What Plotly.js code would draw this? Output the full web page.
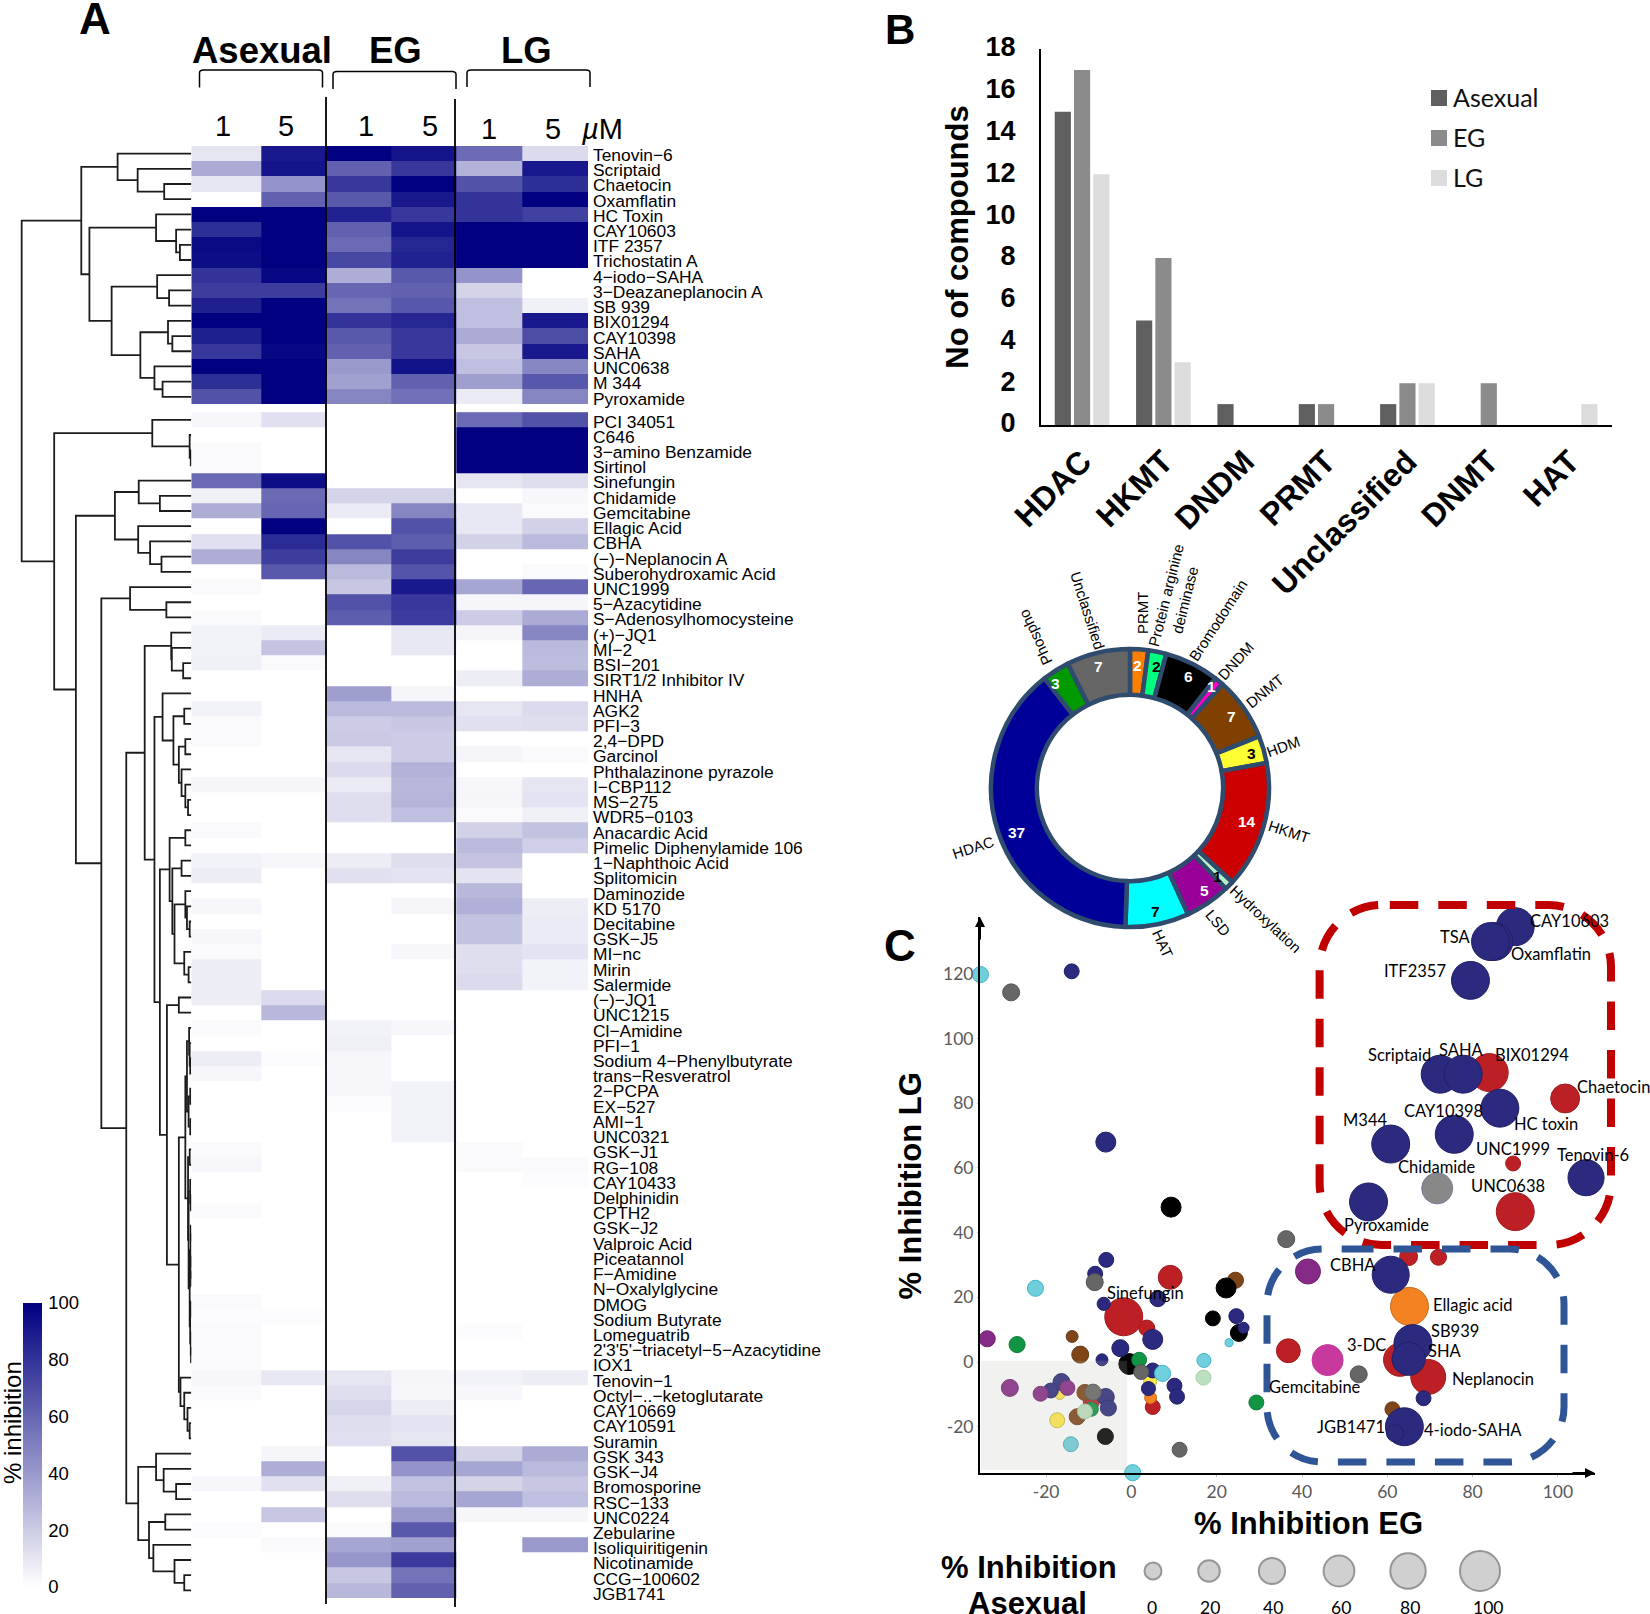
<!DOCTYPE html>
<html><head><meta charset="utf-8"><title>Epigenetic inhibitors</title>
<script src="https://cdn.plot.ly/plotly-3.0.1.min.js"></script>
<style>html,body{margin:0;padding:0;background:#fff}#c{width:1650px;height:1614px}</style></head>
<body><div id="c"></div>
<script>
// ---------- A: heatmap data ----------
const compounds = ['Tenovin−6','Scriptaid','Chaetocin','Oxamflatin','HC Toxin','CAY10603','ITF 2357','Trichostatin A','4−iodo−SAHA','3−Deazaneplanocin A','SB 939','BIX01294','CAY10398','SAHA','UNC0638','M 344','Pyroxamide',
'PCI 34051','C646','3−amino Benzamide','Sirtinol','Sinefungin','Chidamide','Gemcitabine','Ellagic Acid','CBHA','(−)−Neplanocin A','Suberohydroxamic Acid','UNC1999','5−Azacytidine','S−Adenosylhomocysteine','(+)−JQ1','MI−2','BSI−201','SIRT1/2 Inhibitor IV','HNHA','AGK2','PFI−3','2,4−DPD','Garcinol','Phthalazinone pyrazole','I−CBP112','MS−275','WDR5−0103','Anacardic Acid','Pimelic Diphenylamide 106','1−Naphthoic Acid','Splitomicin','Daminozide','KD 5170','Decitabine','GSK−J5','MI−nc','Mirin','Salermide','(−)−JQ1','UNC1215','Cl−Amidine','PFI−1','Sodium 4−Phenylbutyrate','trans−Resveratrol','2−PCPA','EX−527','AMI−1','UNC0321','GSK−J1','RG−108','CAY10433','Delphinidin','CPTH2','GSK−J2','Valproic Acid','Piceatannol','F−Amidine','N−Oxalylglycine','DMOG','Sodium Butyrate','Lomeguatrib',"2'3'5'−triacetyl−5−Azacytidine",'IOX1','Tenovin−1','Octyl−..−ketoglutarate','CAY10669','CAY10591','Suramin','GSK 343','GSK−J4','Bromosporine','RSC−133','UNC0224','Zebularine','Isoliquiritigenin','Nicotinamide','CCG−100602','JGB1741'];
// columns: Asexual 1, Asexual 5, EG 1, EG 5, LG 1, LG 5 (uM)
const inhibition = [
[10,90,100,92,58,14],[33,92,62,78,30,90],[10,42,78,100,68,82],[0,62,65,90,80,100],[100,100,87,78,80,75],[82,100,62,92,100,100],[96,100,58,85,100,100],[95,100,72,87,100,100],[80,97,32,65,42,0],[76,76,60,62,17,0],[88,100,55,66,25,6],[100,100,80,85,25,90],[88,100,65,78,33,70],[78,97,62,78,22,90],[100,100,40,93,25,47],[82,100,37,62,38,66],[68,100,48,56,8,48],
[3,12,0,0,58,68],[0,0,0,0,100,100],[2,0,0,0,100,100],[2,0,0,0,100,100],[58,95,0,0,10,13],[6,58,17,17,0,3],[32,60,8,48,9,2],[0,100,0,68,9,18],[12,83,68,63,18,27],[32,76,48,76,0,0],[0,65,27,67,0,2],[2,0,22,90,35,60],[0,0,68,78,4,4],[2,0,63,77,20,33],[5,8,0,9,4,47],[5,23,0,9,0,27],[6,2,0,0,0,26],[0,0,0,0,7,32],[0,0,38,4,0,0],[5,0,27,27,10,14],[2,0,20,22,12,13],[2,0,21,20,0,0],[0,0,10,20,4,2],[0,0,14,30,0,0],[4,4,8,28,3,10],[0,0,13,29,4,11],[0,0,13,25,2,6],[2,0,0,0,18,24],[0,0,0,0,27,19],[5,3,7,13,23,0],[7,0,12,11,11,0],[0,0,0,0,28,0],[3,0,0,4,31,7],[0,0,0,0,24,8],[3,0,0,0,24,8],[2,0,0,3,13,11],[7,0,0,0,13,5],[7,0,0,0,14,5],[7,14,0,0,0,0],[0,28,0,0,0,0],[2,0,5,3,0,0],[0,0,6,0,0,0],[7,1,3,0,0,0],[3,0,3,0,0,0],[0,0,3,5,0,0],[0,0,1,5,0,0],[0,0,0,5,0,0],[0,0,0,5,0,0],[2,0,0,0,2,0],[3,0,0,0,2,2],[0,0,0,0,0,1],[0,0,0,0,0,0],[1.5,0,0,0,0,0],[0,0,0,0,0,0],[0,0,0,0,0,0],[0,0,0,0,0,0],[0,0,0,0,0,0],[0,0,0,0,0,0],[2,0,0,0,0,0],[1,1,0,0,0,0],[2,0,0,0,1,0],[2,0,0,0,0,0],[2,0,0,0,0,0],[3,9,10,4,5,7],[2,0,13,3,3,0],[0,0,16,7,0,0],[0,0,13,11,0,0],[0,0,12,10,0,0],[0,4,0,68,17,33],[0,32,0,42,35,27],[3,12,6,24,17,22],[0,0,13,27,35,25],[0,22,0,40,4,4],[1,0,2,65,0,0],[0,2,35,37,0,40],[0,0,41,77,0,0],[0,0,22,55,0,0],[0,0,28,62,0,0]];
const topClusterSize = 17;
// dendrogram: [merge height, left, right]; plain numbers are 1-based row numbers
const blob = [11,[8,[4,58,[3,59,[2,60,61]]],[5,[2,62,63],[2,64,65]]],[6,[3,66,67],[5,[2,68,[1,69,70]],[3,[1,[1,71,72],[0.5,73,[0.5,74,75]]],[2,[1,76,77],[1,78,[0.5,79,80]]]]]]];
const dendro = [313,
 [203,[136,1,[99,2,[50,3,4]]],[188,[65,5,[28,6,[21,7,8]]],[147,[63,9,[41,10,11]],[94,[43,12,[35,13,14]],[68,15,[53,16,17]]]]]],
 [253,[72,18,[3,19,[1,20,21]]],
  [213,[141,[97,22,[58,23,24]],[98,25,[76,26,[55,27,28]]]],
   [166,[113,29,[46,30,31]],
    [120,
     [86,[37,32,[36,33,[15,34,35]]],
      [68,[53,36,[33,[13,37,38],[23,[11,39,40],[18,41,[11,42,[6,43,44]]]]]],
       [58,[40,[11,45,46],[35,[18,47,48],[31,[11,49,[8,50,[3,51,52]]],[13,53,[5,54,55]]]]],
        [45,[23,56,57],[23,blob,[20,81,[13,82,[7,83,[3,84,85]]]]]]]]],
     [98,[65,86,[51,87,[28,88,89]]],[78,[48,90,91],[70,92,[31,93,[13,94,95]]]]]]]]]];
// ---------- B: bars ----------
const classes = ['HDAC','HKMT','DNDM','PRMT','Unclassified','DNMT','HAT'];
const barAsexual = [15,5,1,1,1,0,0];
const barEG = [17,8,0,1,2,2,0];
const barLG = [12,3,0,0,2,0,1];
// ---------- donut ----------
const ringLabels = ['PRMT','Protein arginine deiminase','Bromodomain','DNDM','DNMT','HDM','HKMT','Hydroxylation','LSD','HAT','HDAC','Phospho','Unclassified'];
const ringValues = [2,2,6,1,7,3,14,1,5,7,37,3,7];
const ringColors = ['#ff7f00','#00ff7f','#000000','#ff00cc','#804000','#ffff33','#cc0000','#b3f0cc','#990099','#00ffff','#000099','#009900','#666666'];
const ringText = ['#fff','#000','#fff','#fff','#fff','#000','#fff','#000','#fff','#000','#fff','#fff','#fff'];
const ringCountX = [1137.3,1156,1188.3,1211.7,1231.7,1251.3,1246.7,1217.7,1204,1155.7,1016.7,1055.7,1098.7];
const ringCountY = [665,666.7,676,686.7,716.7,753.3,821.7,876.7,890,911.7,832.7,683,666.7];
// ---------- C: scatter, one triple of arrays per class ----------
const hdacEG=[90,85,84.2,79.5,72.4,77.8,86.4,75.7,60.8,55.6,106.6,60.8,66,65,64,68.5,61.8,-14,-6,-5.9,-8.5,-6.5,6.2,24.6,26.3,5,-2.6,-6.9,5,4,10.1,10.7,-16.4,-18.9,-6,-5.4];
const hdacLG=[134.6,130,130,118,89,89,78.5,70.4,67.4,49.5,57,27,5.7,1,-20,-11.2,-22,120.8,68,31.6,27.3,18,19.6,14.2,10.6,7,4.3,0.7,-2.6,-8.2,-7.3,-10.7,-6.2,-8.8,-10.8,-14.2];
const hdacAs=[91,91,91,91,91,91,91,91,91,91,83,87,91,70,91,-9,0,-9,13,-9,-9,-17,-4,-9,-26,13,0,-22,-9,-13,-9,-9,0,-9,0,-4];
const hkmtEG=[83.9,101.7,89.5,90,65,72,9.1,-1.8,3.6,36.8,63,69.6,5,-9.4];
const hkmtLG=[89.5,81.5,61.4,46.5,32.6,32.4,26.2,14,10.5,3.5,0.7,-4.6,-13.9,-12.4];
const hkmtAs=[91,52,-9,91,4,-4,30,91,-4,30,70,78,-9,-4];
const blackEG=[9.3,22.2,19.1,25.2,-0.5,-6.1], blackLG=[47.9,22.9,13.5,9,-0.6,-23], blackAs=[13,13,-9,0,17,-4];
const brownEG=[24.4,-13.9,-12,61.2,-12.7,-10.9], brownLG=[25.3,7.9,2.3,-14.6,-16.9,-9.4], brownAs=[-4,-22,0,-9,-4,-4];
const orangeEG=[65.2,4.5], orangeLG=[17.2,-11], orangeAs=[91,-22];
const yellowEG=[4.4,-17.4,-16.8], yellowLG=[-6,-18,-10], yellowAs=[-17,-9,-30];
const purpleEG=[41.4,-33.8,-28.5,-21.3,-15], purpleLG=[28,7.2,-8,-9.8,-8], purpleAs=[35,-4,0,-9,-9];
const magentaEG=[46], magentaLG=[0.6], magentaAs=[61];
const greenEG=[-26.8,29.3,-9.4,1.8], greenLG=[5.4,-12.5,-14.6,0.7], greenAs=[-4,-9,-13,-9];
const paleEG=[16.9,-10.9], paleLG=[-4.8,-15.3], paleAs=[-9,-9];
const cyanEG=[-35.4,-22.5,17,7.3,22.9,0.3,-14.2], cyanLG=[119.8,22.8,0.5,-3.5,6,-34.2,-25.4], cyanAs=[-4,-4,-13,-4,-39,-4,-9];
const grayEG=[-28.2,36.3,-8.6,2.3,53.3,11.3,-9], grayLG=[114.3,38,24.7,-3.1,-3.8,-27.1,-9.3], grayAs=[0,0,0,-9,0,-9,-4];
const chidEG=[71.7], chidLG=[53.7], chidAs=[61];
const sizeSteps=[0,20,40,60,80,100];
const sizeStepPos=[1153,1209,1272,1339,1408,1480];
const sizeStepLabelPos=[1152,1210,1273,1341,1410,1488];
const scatterXTicks=[-20,0,20,40,60,80,100];
const scatterYTicks=[-20,0,20,40,60,80,100,120];
const scatterLabels=[['CAY10603',1569.6,920.7],['TSA',1454.7,936.7],['Oxamflatin',1551.4,954],['ITF2357',1415.4,971],['Scriptaid',1399,1054.7],['SAHA',1461,1050.3],['BIX01294',1531.8,1055.3],['Chaetocin',1613.3,1086.7],['CAY10398',1443.9,1111],['M344',1364.8,1120.3],['HC toxin',1545.5,1124],['UNC1999',1512.6,1148.7],['Tenovin-6',1592.7,1155],['Chidamide',1436.5,1166.7],['UNC0638',1507.7,1186],['Pyroxamide',1386.4,1224.7],['CBHA',1352.5,1264.7],['Sinefungin',1145.7,1292.7],['Ellagic acid',1472.8,1304.7],['SB939',1455.2,1330.7],['3-DC',1366.7,1345.3],['SHA',1444.8,1350.7],['Neplanocin',1493,1379],['Gemcitabine',1315.2,1387],['JGB1471',1351,1427.3],['4-iodo-SAHA',1473.3,1430.3]];

// ---------- page geometry ----------
const W=1650,H=1614;
const fx=p=>p/W, fy=p=>1-p/H;
const dx=(a,b)=>[fx(a),fx(b)], dy=(top,bot)=>[fy(bot),fy(top)];
const SANS='"Liberation Sans", Arial, sans-serif', CAL='Lato, "Liberation Sans", sans-serif';
const note=(text,x,y,size,o={})=>Object.assign({text:text,xref:'paper',yref:'paper',x:fx(x),y:fy(y),xanchor:'center',yanchor:'middle',showarrow:false,font:{family:SANS,size:size,color:'#000'}},o);
const B=t=>'<b>'+t+'</b>';

// heatmap
const colEdges=[191.3,261,326.5,391,456,522,588];
const rowPos=i=>i<topClusterSize?i:i+0.51;
const heatScale=[[0,'#ffffff'],[1,'#000080']];
const allRows=compounds.map((_,i)=>rowPos(i));
const yRange=[rowPos(compounds.length-1)+0.5,-0.5];
const traces=[];
traces.push({type:'heatmap',x:colEdges,y:allRows.slice(0,topClusterSize),z:inhibition.slice(0,topClusterSize),colorscale:heatScale,zmin:0,zmax:100,xaxis:'x',yaxis:'y',hoverinfo:'skip',
 colorbar:{x:fx(23),xanchor:'left',y:fy(1303),yanchor:'top',len:284,lenmode:'pixels',thickness:19,thicknessmode:'pixels',tickvals:[0,20,40,60,80,100],outlinewidth:0,ticks:'outside',ticklen:3,tickcolor:'rgba(0,0,0,0)',xpad:0,ypad:0,tickfont:{family:SANS,size:18.5,color:'#000'}}});
traces.push({type:'heatmap',x:colEdges,y:allRows.slice(topClusterSize),z:inhibition.slice(topClusterSize),colorscale:heatScale,zmin:0,zmax:100,showscale:false,xaxis:'x',yaxis:'y',hoverinfo:'skip'});
// compound names sit on their own right-hand axis, slightly offset from the cells as in the figure
traces.push({type:'scatter',mode:'none',x:allRows.map(()=>588),y:allRows,xaxis:'x',yaxis:'y6',hoverinfo:'skip',showlegend:false});

// dendrogram through a recursive walk of the merge tree
const dendX=[],dendY=[];
function walk(n){
  if(typeof n==='number') return {h:0,y:rowPos(n-1)};
  const a=walk(n[1]),b=walk(n[2]);
  dendX.push(a.h,n[0],n[0],b.h,null);
  dendY.push(a.y,a.y,b.y,b.y,null);
  return {h:n[0],y:(a.y+b.y)/2};
}
walk(dendro);
traces.push({type:'scatter',mode:'lines',x:dendX,y:dendY,xaxis:'x2',yaxis:'y2',line:{color:'#1c1c1c',width:1.8},hoverinfo:'skip',showlegend:false});

// bars
const barCol={a:'#5f5f5f',e:'#8b8b8b',l:'#dcdcdc'};
[['Asexual',barAsexual,barCol.a],['EG',barEG,barCol.e],['LG',barLG,barCol.l]].forEach(s=>traces.push({type:'bar',name:s[0],x:classes,y:s[1],marker:{color:s[2]},xaxis:'x3',yaxis:'y3',showlegend:false}));

// donut
const ringCx=1130,ringCy=788,ringR=139;
traces.push({type:'pie',labels:ringLabels,values:ringValues,sort:false,direction:'clockwise',rotation:0,hole:0.67,textinfo:'none',hoverinfo:'label+value',showlegend:false,
 marker:{colors:ringColors,line:{color:'#2f4b6e',width:4.5}},domain:{x:dx(ringCx-ringR,ringCx+ringR),y:dy(ringCy-ringR,ringCy+ringR)}});

// scatter
const dia=a=>17+0.23*a;
function pts(name,x,y,a,fill,line,extra){
  traces.push(Object.assign({type:'scatter',mode:'markers',name:name,x:x,y:y,xaxis:'x4',yaxis:'y4',cliponaxis:false,showlegend:false,
   marker:{size:a.map(dia),sizemode:'diameter',color:fill,line:{color:line,width:1},opacity:1}},extra||{}));
}
pts('HKMT',hkmtEG,hkmtLG,hkmtAs,'#bd2024','#a01c20');
pts('DNMT',brownEG,brownLG,brownAs,'#7d4518','#6a3a14');
pts('Bromodomain',blackEG,blackLG,blackAs,'#000000','#000000');
pts('PRMT',orangeEG,orangeLG,orangeAs,'#f58220','#c96a18');
pts('HDM',yellowEG,yellowLG,yellowAs,'#ffe94a','#cdbb3a');
pts('HDAC',hdacEG,hdacLG,hdacAs,'#2b2a7e','#201f66');
pts('LSD',purpleEG,purpleLG,purpleAs,'#862a87','#6f236f');
pts('PAD',magentaEG,magentaLG,magentaAs,'#c7399c','#c7399c');
pts('Phospho',greenEG,greenLG,greenAs,'#119444','#0d7a38');
pts('Hydroxylation',paleEG,paleLG,paleAs,'#bde0c0','#a4cfa8');
pts('HAT',cyanEG,cyanLG,cyanAs,'#6fcfdc','#3cb5c4');
pts('Unclassified',grayEG,grayLG,grayAs,'#666666','#555555');
pts('Chidamide',chidEG,chidLG,chidAs,'#888888','#7a7a9a');

// size key
traces.push({type:'scatter',mode:'markers',x:sizeStepPos,y:sizeSteps.map(()=>0),xaxis:'x5',yaxis:'y5',cliponaxis:false,showlegend:false,hoverinfo:'skip',
 marker:{size:sizeSteps.map(dia),sizemode:'diameter',color:'#bdbdbd',line:{color:'#6a6a6a',width:2}}});

// shapes
const P=(v,axis)=>axis==='x'?fx(v):fy(v);
const paperPath=cmds=>cmds.map(c=>c[0]+' '+c.slice(1).map((v,i)=>P(v,i%2?'y':'x')).join(' ')).join(' ');
const bracket=(l,r,t,b)=>paperPath([['M',l,b],['L',l,t+3],['Q',l,t,l+4,t],['L',r-4,t],['Q',r,t,r,t+3],['L',r,b]]);
const K=0.45;
const round=(sx,l,t,r,b,c)=>{const k=c*K;return paperPath([['M',sx,t],['L',r-c,t],['C',r-k,t,r,t+k,r,t+c],['L',r,b-c],['C',r,b-k,r-k,b,r-c,b],['L',l+c,b],['C',l+k,b,l,b-k,l,b-c],['L',l,t+c],['C',l,t+k,l+k,t,l+c,t],['L',sx,t]]);};
const shapes=[
 {type:'path',xref:'paper',yref:'paper',path:bracket(199.5,322.5,70,87.5),line:{color:'#000',width:1.5}},
 {type:'path',xref:'paper',yref:'paper',path:bracket(333,456,71.5,89),line:{color:'#000',width:1.5}},
 {type:'path',xref:'paper',yref:'paper',path:bracket(467,590,70,87),line:{color:'#000',width:1.5}},
 {type:'line',xref:'paper',yref:'paper',x0:fx(326),x1:fx(326),y0:fy(97),y1:fy(1604),line:{color:'#000',width:1.8},layer:'above'},
 {type:'line',xref:'paper',yref:'paper',x0:fx(455),x1:fx(455),y0:fy(99),y1:fy(1607),line:{color:'#000',width:1.8},layer:'above'},
 {type:'rect',xref:'paper',yref:'paper',x0:fx(1431),x1:fx(1447),y0:fy(90),y1:fy(106),fillcolor:barCol.a,line:{width:0}},
 {type:'rect',xref:'paper',yref:'paper',x0:fx(1431),x1:fx(1447),y0:fy(130),y1:fy(146),fillcolor:barCol.e,line:{width:0}},
 {type:'rect',xref:'paper',yref:'paper',x0:fx(1431),x1:fx(1447),y0:fy(170),y1:fy(186),fillcolor:barCol.l,line:{width:0}},
 {type:'rect',xref:'x4',yref:'y4',x0:-35.3,x1:-1,y0:0.4,y1:-33.4,fillcolor:'rgba(185,185,175,0.2)',line:{width:0},layer:'above'},
 {type:'path',xref:'paper',yref:'paper',path:round(1389.8,1319.6,905,1611,1245,62),line:{color:'#c00000',width:8,dash:'28.5px,20px'},layer:'above'},
 {type:'path',xref:'paper',yref:'paper',path:round(1345,1267,1249,1564,1462,55),line:{color:'#2f5597',width:7,dash:'28.5px,20px'},layer:'above'}
];

// annotations
const legendFont={family:CAL,size:25,color:'#111'};
const anns=[
 note(B('A'),95,18,44),note(B('B'),900,30,42),note(B('C'),900,945,44),
 note(B('Asexual'),262,50,36.5),note(B('EG'),395,50,36.5),note(B('LG'),526,50,36.5),
 note('1',223,126,29),note('5',286,126,29),note('1',366,126,29),note('5',430,126,29),note('1',489,129,29),note('5',553,129,29),
 note('<i>µ</i>M',602,129,29),
 note('% inhibition',12,1423,24,{textangle:-90}),
 note('Asexual',1451,97,25,{xanchor:'left',font:legendFont}),
 note('EG',1451,137,25,{xanchor:'left',font:legendFont}),
 note('LG',1451,177,25,{xanchor:'left',font:legendFont}),
 note('Phospho',1035,638,15,{textangle:-115}),
 note('Unclassified',1088,610,15,{textangle:72}),
 note('PRMT',1142,613,15,{textangle:-90}),
 note('Protein arginine<br>deiminase',1175,598,15,{textangle:-76}),
 note('Bromodomain',1218,621,15,{textangle:-57}),
 note('DNDM',1235,661,15,{textangle:-48}),
 note('DNMT',1264,691,15,{textangle:-39}),
 note('HDM',1283,746,15,{textangle:-20}),
 note('HKMT',1289,831,15,{textangle:18}),
 note('Hydroxylation',1265,919,15,{textangle:43}),
 note('LSD',1218,922,15,{textangle:50}),
 note('HAT',1163,943,15,{textangle:65}),
 note('HDAC',973,848,15,{textangle:-18}),
 note(B('% Inhibition EG'),1308,1523,31),
 note(B('% Inhibition LG'),909.5,1186,31,{textangle:-90}),
 note(B('% Inhibition'),1029,1567,31),
 note(B('Asexual'),1027,1603,31),
 {text:'',xref:'paper',yref:'paper',x:fx(980),y:fy(917),ax:0,ay:24,showarrow:true,arrowhead:2,arrowwidth:2,arrowcolor:'#000',arrowsize:1},
 {text:'',xref:'paper',yref:'paper',x:fx(1595),y:fy(1473),ax:-24,ay:0,showarrow:true,arrowhead:2,arrowwidth:2,arrowcolor:'#000',arrowsize:1}
];
scatterLabels.forEach(l=>anns.push(note(l[0],l[1],l[2],16.5,{font:{family:CAL,size:16.5,color:'#000'}})));
sizeSteps.forEach((s,i)=>anns.push(note(String(s),sizeStepLabelPos[i],1607,17.5,{font:{family:CAL,size:17.5,color:'#000'}})));
ringValues.forEach((v,i)=>anns.push(note(B(String(v)),ringCountX[i],ringCountY[i],15.5,{font:{family:SANS,size:15.5,color:ringText[i]}})));

const hidden={visible:false,fixedrange:true};
const layout={width:W,height:H,margin:{l:0,r:0,t:0,b:0},paper_bgcolor:'#fff',plot_bgcolor:'rgba(0,0,0,0)',showlegend:false,bargap:0.29,bargroupgap:0.16,font:{family:SANS},hovermode:'closest',
 xaxis:Object.assign({},hidden,{domain:dx(191.3,588),range:[191.3,588],anchor:'y'}),
 yaxis:Object.assign({},hidden,{domain:dy(146,1598),range:yRange,anchor:'x'}),
 yaxis6:{domain:dy(147.2,1601.4),range:yRange,anchor:'x',side:'right',tickmode:'array',tickvals:allRows,ticktext:compounds,ticks:'',showgrid:false,zeroline:false,showline:false,ticklabelstandoff:4,tickfont:{family:SANS,size:17.4,color:'#000'},fixedrange:true},
 xaxis2:Object.assign({},hidden,{domain:dx(0,191.3),range:[353,0],anchor:'y2'}),
 yaxis2:Object.assign({},hidden,{domain:dy(146,1598),range:yRange,anchor:'x2'}),
 xaxis3:{domain:dx(1041,1612),range:[-0.505,6.515],anchor:'y3',showline:true,linecolor:'#000',linewidth:2,ticks:'outside',ticklen:3,tickcolor:'rgba(0,0,0,0)',tickangle:-45,showgrid:false,zeroline:false,tickfont:{family:SANS,size:32,color:'#000',weight:'bold'},fixedrange:true},
 yaxis3:{domain:dy(49,425),range:[0,18],dtick:2,anchor:'x3',showline:true,linecolor:'#000',linewidth:2,ticks:'outside',ticklen:18,tickcolor:'rgba(0,0,0,0)',ticklabelshift:-2,showgrid:false,zeroline:false,tickfont:{family:SANS,size:27,color:'#000',weight:'bold'},title:{text:'No of compounds',font:{family:SANS,size:31,color:'#000',weight:'bold'},standoff:8},fixedrange:true},
 xaxis4:{domain:dx(980,1595),range:[-35.5,108.7],anchor:'y4',tickmode:'array',tickvals:scatterXTicks,ticktext:scatterXTicks.map(String),showline:true,linecolor:'#000',linewidth:2,ticks:'outside',ticklen:2,tickcolor:'#bbb',showgrid:false,zeroline:false,tickfont:{family:CAL,size:17.5,color:'#595959'},fixedrange:true},
 yaxis4:{domain:dy(917,1473),range:[-34.3,137.6],anchor:'x4',tickmode:'array',tickvals:scatterYTicks,ticktext:scatterYTicks.map(String),showline:true,linecolor:'#000',linewidth:2,ticks:'outside',ticklen:1,tickcolor:'#bbb',showgrid:false,zeroline:false,tickfont:{family:CAL,size:17.5,color:'#595959'},fixedrange:true},
 xaxis5:Object.assign({},hidden,{domain:dx(1100,1550),range:[1100,1550],anchor:'y5'}),
 yaxis5:Object.assign({},hidden,{domain:dy(1541,1601),range:[-1,1],anchor:'x5'}),
 shapes:shapes,annotations:anns};
Plotly.newPlot('c',traces,layout,{displayModeBar:false,staticPlot:true});
</script></body></html>
